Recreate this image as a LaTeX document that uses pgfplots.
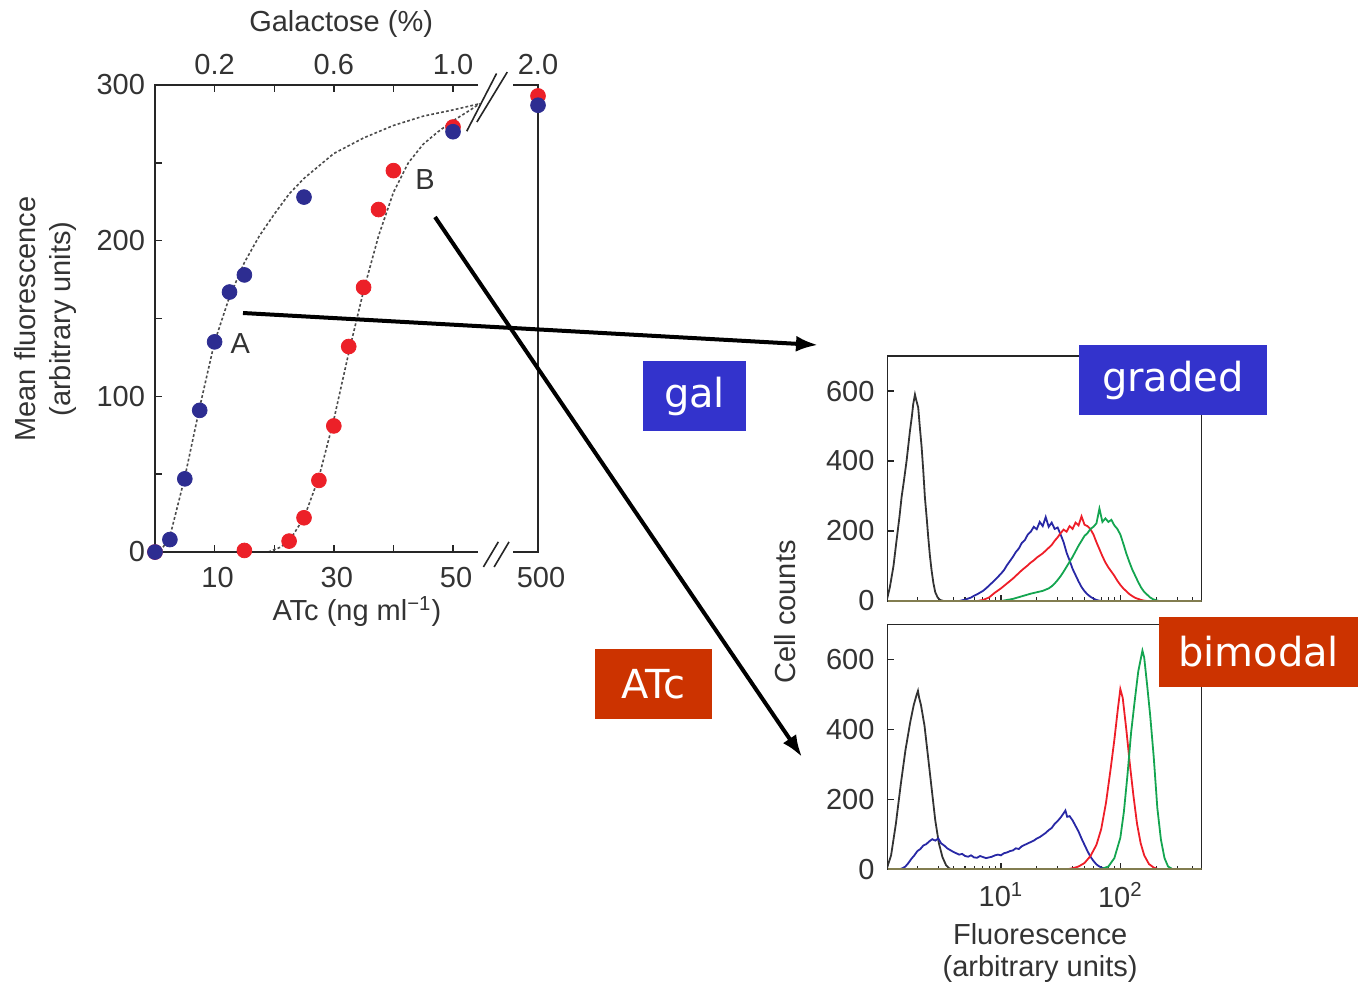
\documentclass[border=0pt]{standalone}
\usepackage{pgfplots}
\pgfplotsset{compat=1.18}
\usepackage{fontspec}
\setmainfont{Liberation Sans}
\newfontfamily\boxfont{DejaVu Sans}
\usetikzlibrary{arrows.meta}
\definecolor{ptblue}{RGB}{45,45,145}
\definecolor{ptred}{RGB}{236,32,40}
\definecolor{hblue}{RGB}{40,40,165}
\definecolor{hred}{RGB}{238,30,40}
\definecolor{hgreen}{RGB}{20,165,80}
\definecolor{holive}{RGB}{130,125,80}
\definecolor{boxblue}{RGB}{51,51,204}
\definecolor{boxred}{RGB}{204,51,0}
\newcommand{\lblfont}{\fontsize{14.5pt}{17.5pt}\selectfont}

\begin{document}
\begin{tikzpicture}
\useasboundingbox (0pt,0pt) rectangle (679pt,-495pt);

% ---------------- main dose-response axis ----------------
\begin{axis}[
  at={(77.5pt,-276pt)}, anchor=south west,
  scale only axis, width=191.5pt, height=233.5pt,
  xmin=0, xmax=64.26, ymin=0, ymax=300,
  axis line style={draw=none},
  clip=false,
  tick align=inside, major tick length=3.5pt,
  every tick/.style={black!85, line width=0.7pt},
  xtick={10,20,30,40,50,64.26}, xticklabels={10,,30,,50,500},
  xtick pos=both, xticklabel pos=lower,
  ytick={0,50,100,150,200,250,300}, yticklabels={0,,100,,200,,300},
  ytick pos=left,
  tick label style={font=\lblfont, text=black!80},
  xticklabel style={yshift=-4pt, xshift=1.5pt},
  yticklabel style={xshift=-1.5pt},
  xlabel={ATc (ng ml\textsuperscript{−1})},
  ylabel={Mean fluorescence\\(arbitrary units)},
  every axis x label/.style={at={(axis description cs:0.527,-0.128)}, anchor=center, font=\lblfont, text=black!80},
  every axis y label/.style={at={(axis description cs:-0.286,0.499)}, anchor=center, rotate=90, align=center, font=\lblfont, text=black!80},
]
% fitted curves
\addplot[black!70, line width=0.8pt, dash pattern=on 1.4pt off 1.1pt] coordinates {
 (0,0) (1,1) (2.5,10) (5,48) (7.5,93) (10,135) (12.5,164) (15,186) (17.5,203) (20,217)
 (22.5,230) (25,240) (30,256) (35,266) (40,274) (45,280) (50,284) (54.5,288)};
\addplot[black!70, line width=0.8pt, dash pattern=on 1.4pt off 1.1pt] coordinates {
 (19,0) (21,3) (22.5,7) (25,22) (27.5,48) (30,85) (32.5,128) (35,168) (37.5,203) (40,231)
 (42.5,250) (45,262) (47.5,270) (50,277) (52.5,283) (54.5,288)};
% axis frame with breaks
\draw[black!85, line width=0.8pt] (axis cs:54.2,300) -- (axis cs:0,300) -- (axis cs:0,0) -- (axis cs:54.2,0);
\draw[black!85, line width=0.8pt] (axis cs:60.1,300) -- (axis cs:64.26,300) -- (axis cs:64.26,0) -- (axis cs:60.1,0);
\draw[black!85, line width=0.8pt] (axis cs:52.3,270.3) -- (axis cs:57.3,307.4);
\draw[black!85, line width=0.8pt] (axis cs:54.0,276.2) -- (axis cs:59.1,308.3);
\draw[black!85, line width=0.8pt] (axis cs:55.1,-9.6) -- (axis cs:57.6,6.5);
\draw[black!85, line width=0.8pt] (axis cs:56.9,-9.6) -- (axis cs:59.4,6.5);
% data points
\addplot[only marks, mark=*, mark size=3.7pt, color=ptred] coordinates {
 (0,0) (15,1) (22.5,7) (25,22) (27.5,46) (30,81) (32.5,132) (35,170) (37.5,220) (40,245) (50,273) (64.26,293)};
\addplot[only marks, mark=*, mark size=3.7pt, color=ptblue] coordinates {
 (0,0) (2.5,8) (5,47) (7.5,91) (10,135) (12.5,167) (15,178) (25,228) (50,270) (64.26,287)};
\node[font=\lblfont, text=black!80] at (axis cs:14.3,134) {A};
\node[font=\lblfont, text=black!80] at (axis cs:45.3,239) {B};
\end{axis}

% ---------------- top (galactose) tick labels ----------------
\begin{axis}[
  at={(77.5pt,-276pt)}, anchor=south west,
  scale only axis, width=191.5pt, height=233.5pt,
  xmin=0, xmax=64.26, ymin=0, ymax=300,
  hide y axis, axis line style={draw=none},
  xtick={10,30,50,64.26}, xticklabels={0.2,0.6,1.0,2.0},
  xtick pos=upper, xticklabel pos=upper, major tick length=0pt,
  tick label style={font=\lblfont, text=black!80},
  xticklabel style={yshift=1.5pt},
  xlabel={Galactose (\%)},
  every axis x label/.style={at={(axis description cs:0.486,1.13)}, anchor=center, font=\lblfont, text=black!80},
]
\addplot[draw=none] coordinates {(0,0)};
\end{axis}

% ---------------- top histogram (graded) ----------------
\begin{axis}[
  at={(443.75pt,-300.5pt)}, anchor=south west,
  scale only axis, width=157pt, height=122.5pt,
  xmin=0.05, xmax=2.68, ymin=0, ymax=700,
  axis line style={black!85, line width=0.8pt},
  tick align=inside, major tick length=3pt, minor tick length=1.8pt,
  every tick/.style={black!85, line width=0.6pt},
  xtick={1,2}, xticklabels={,},
  minor xtick={0.301,0.477,0.602,0.699,0.778,0.845,0.903,0.954,1.301,1.477,1.602,1.699,1.778,1.845,1.903,1.954,2.301,2.477,2.602},
  xtick pos=bottom, ytick pos=left,
  ytick={0,200,400,600}, yticklabels={0,200,400,600},
  tick label style={font=\lblfont, text=black!80},
  yticklabel style={xshift=-3pt},
]
\addplot[black!80, line width=0.9pt] coordinates {
 (0.045,4) (0.070,40) (0.100,100) (0.126,174) (0.150,240) (0.168,297) (0.190,350) (0.210,401)
 (0.238,486) (0.255,530) (0.265,562) (0.280,590) (0.290,575) (0.307,553) (0.320,500) (0.336,439)
 (0.350,370) (0.363,297) (0.380,230) (0.391,183) (0.405,130) (0.419,88) (0.435,50) (0.450,25)
 (0.470,10) (0.490,3) (0.520,0)};
\addplot[hblue, line width=0.9pt] coordinates {
 (0.650,0) (0.675,2) (0.700,4) (0.725,7) (0.750,10) (0.775,15) (0.800,19) (0.825,24) (0.850,29)
 (0.875,36) (0.900,44) (0.925,52) (0.950,60) (0.975,69) (1.000,78) (1.025,88) (1.050,102)
 (1.075,114) (1.100,126) (1.125,140) (1.150,150) (1.175,166) (1.200,174) (1.225,190) (1.250,198)
 (1.275,212) (1.300,205) (1.325,226) (1.350,214) (1.375,240) (1.400,212) (1.425,224) (1.450,206)
 (1.475,210) (1.500,190) (1.525,168) (1.550,138) (1.575,116) (1.600,92) (1.625,74) (1.650,56)
 (1.675,40) (1.700,28) (1.725,19) (1.750,12) (1.775,7) (1.800,3) (1.825,1) (1.850,0)};
\addplot[hred, line width=0.9pt] coordinates {
 (0.800,0) (0.850,3) (0.900,10) (0.950,24) (1.000,36) (1.050,50) (1.100,64) (1.125,72) (1.150,80)
 (1.175,88) (1.200,95) (1.225,102) (1.250,110) (1.275,116) (1.300,124) (1.325,130) (1.350,136)
 (1.375,144) (1.400,152) (1.425,160) (1.450,172) (1.475,182) (1.500,194) (1.525,204) (1.550,198)
 (1.575,214) (1.600,206) (1.625,224) (1.650,216) (1.675,242) (1.700,218) (1.725,214) (1.750,205)
 (1.775,190) (1.800,168) (1.825,148) (1.850,128) (1.875,110) (1.900,96) (1.925,84) (1.950,72)
 (1.975,58) (2.000,46) (2.025,36) (2.050,28) (2.075,20) (2.100,14) (2.125,9) (2.150,6) (2.175,3)
 (2.200,1) (2.225,0)};
\addplot[hgreen, line width=0.9pt] coordinates {
 (1.000,0) (1.050,3) (1.100,6) (1.150,11) (1.200,16) (1.250,21) (1.300,25) (1.350,29) (1.400,36)
 (1.425,42) (1.450,50) (1.475,60) (1.500,71) (1.525,84) (1.550,98) (1.575,112) (1.600,126)
 (1.625,142) (1.650,158) (1.675,172) (1.700,186) (1.725,194) (1.750,206) (1.775,212) (1.800,222)
 (1.825,264) (1.850,226) (1.875,236) (1.900,226) (1.925,232) (1.950,216) (1.975,206) (2.000,190)
 (2.025,164) (2.050,136) (2.075,112) (2.100,90) (2.125,72) (2.150,54) (2.175,38) (2.200,26)
 (2.225,18) (2.250,10) (2.275,5) (2.300,2) (2.325,0)};
\addplot[holive, line width=0.9pt] coordinates {(0.05,0) (2.68,0)};
\end{axis}

% ---------------- bottom histogram (bimodal) ----------------
\begin{axis}[
  at={(443.75pt,-434.65pt)}, anchor=south west,
  scale only axis, width=157pt, height=122.5pt,
  xmin=0.05, xmax=2.68, ymin=0, ymax=700,
  axis line style={black!85, line width=0.8pt},
  tick align=inside, major tick length=3pt, minor tick length=1.8pt,
  every tick/.style={black!85, line width=0.6pt},
  xtick={1,2}, xticklabels={10\textsuperscript{1},10\textsuperscript{2}},
  minor xtick={0.301,0.477,0.602,0.699,0.778,0.845,0.903,0.954,1.301,1.477,1.602,1.699,1.778,1.845,1.903,1.954,2.301,2.477,2.602},
  xtick pos=bottom, ytick pos=left,
  ytick={0,200,400,600}, yticklabels={0,200,400,600},
  tick label style={font=\lblfont, text=black!80},
  xticklabel style={yshift=-3pt},
  yticklabel style={xshift=-3pt},
  xlabel={Fluorescence\\(arbitrary units)},
  ylabel={Cell counts},
  every axis x label/.style={at={(axis description cs:0.486,-0.342)}, anchor=center, align=center, font=\fontsize{14.5pt}{16pt}\selectfont, text=black!80},
  every axis y label/.style={at={(axis description cs:-0.326,1.05)}, anchor=center, rotate=90, font=\lblfont, text=black!80},
]
\addplot[black!80, line width=0.9pt] coordinates {
 (0.045,3) (0.080,40) (0.120,130) (0.160,240) (0.200,340) (0.240,420) (0.270,470) (0.295,500)
 (0.305,510) (0.315,490) (0.330,470) (0.360,410) (0.390,320) (0.420,230) (0.450,140) (0.480,75)
 (0.510,35) (0.540,12) (0.570,2) (0.600,0)};
\addplot[hblue, line width=0.9pt] coordinates {
 (0.150,0) (0.175,3) (0.200,8) (0.225,18) (0.250,30) (0.275,40) (0.300,52) (0.325,58) (0.350,68)
 (0.375,72) (0.400,80) (0.425,86) (0.450,82) (0.475,88) (0.500,74) (0.525,68) (0.550,60) (0.575,55)
 (0.600,50) (0.625,46) (0.650,42) (0.675,44) (0.700,38) (0.725,36) (0.750,40) (0.775,34) (0.800,33)
 (0.825,38) (0.850,35) (0.875,32) (0.900,34) (0.925,36) (0.950,40) (0.975,42) (1.000,40) (1.025,46)
 (1.050,48) (1.075,52) (1.100,54) (1.125,60) (1.150,58) (1.175,66) (1.200,70) (1.225,74) (1.250,78)
 (1.275,82) (1.300,88) (1.325,92) (1.350,98) (1.375,104) (1.400,112) (1.425,118) (1.450,130)
 (1.475,138) (1.500,148) (1.525,160) (1.540,168) (1.555,150) (1.575,152) (1.600,140) (1.625,124)
 (1.650,108) (1.675,88) (1.700,70) (1.725,52) (1.750,36) (1.775,24) (1.800,14) (1.825,8) (1.850,4)
 (1.875,2) (1.900,0)};
\addplot[hred, line width=0.9pt] coordinates {
 (1.550,0) (1.600,3) (1.650,8) (1.700,18) (1.750,38) (1.800,70) (1.840,115) (1.880,190) (1.920,290)
 (1.950,370) (1.980,460) (2.000,515) (2.020,490) (2.050,400) (2.080,300) (2.110,210) (2.140,130)
 (2.170,75) (2.200,40) (2.240,15) (2.280,5) (2.320,0)};
\addplot[hgreen, line width=0.9pt] coordinates {
 (1.800,0) (1.850,2) (1.900,8) (1.950,32) (2.000,90) (2.030,165) (2.060,270) (2.090,390) (2.120,480)
 (2.150,565) (2.185,625) (2.200,605) (2.225,525) (2.250,440) (2.280,320) (2.310,175) (2.340,85)
 (2.370,32) (2.400,8) (2.440,0)};
\addplot[holive, line width=0.9pt] coordinates {(0.05,0) (2.68,0)};
\end{axis}

% ---------------- annotation boxes ----------------
\node[fill=boxblue, text=white, font=\boxfont\fontsize{20pt}{24pt}\selectfont, minimum width=51.5pt, minimum height=35pt, inner sep=0pt] at (347.25pt,-198pt) {gal};
\node[fill=boxblue, text=white, font=\boxfont\fontsize{20pt}{24pt}\selectfont, minimum width=94pt, minimum height=35pt, inner sep=0pt] at (586.5pt,-190pt) {graded};
\node[fill=boxred, text=white, font=\boxfont\fontsize{20pt}{24pt}\selectfont, minimum width=58.5pt, minimum height=35pt, inner sep=0pt] at (326.75pt,-342pt) {ATc};
\node[fill=boxred, text=white, font=\boxfont\fontsize{20pt}{24pt}\selectfont, minimum width=99.5pt, minimum height=35pt, inner sep=0pt] at (629.25pt,-326pt) {bimodal};

% ---------------- arrows ----------------
\draw[line width=2pt, -{Latex[length=11pt,width=8pt]}] (121.5pt,-156.5pt) -- (409pt,-172.5pt);
\draw[line width=2pt, -{Latex[length=11pt,width=8pt]}] (217.5pt,-108.5pt) -- (401pt,-378.5pt);
\end{tikzpicture}
\end{document}
